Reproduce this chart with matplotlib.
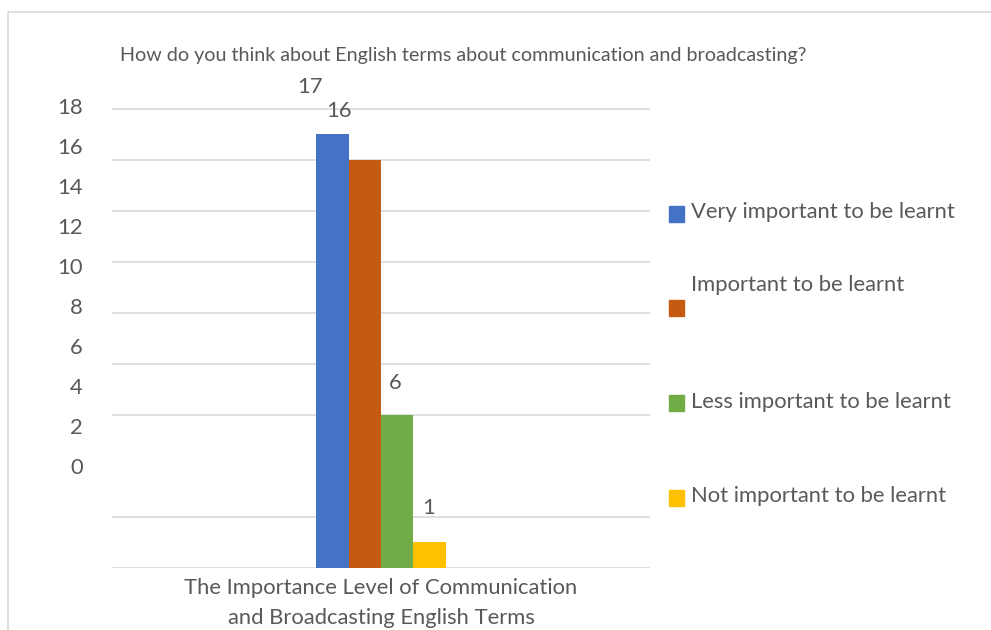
import numpy as np
import matplotlib.pyplot as plt
from matplotlib.patches import Rectangle

# data
category = "The Importance Level of Communication\nand Broadcasting English Terms"
series = ["Very important to be learnt", "Important to be learnt",
          "Less important to be learnt", "Not important to be learnt"]
values = [17, 16, 6, 1]
colors = ["#4472C4", "#C55A11", "#70AD47", "#FFC000"]
ytick_labels = [str(v) for v in range(0, 20, 2)]
title = "How do you think about English terms about communication and broadcasting?"

plt.rcParams['font.family'] = ['Lato', 'DejaVu Sans']
txt = "#595959"
grid = "#D9D9D9"
fs = 15.8

fig = plt.figure(figsize=(9.91, 6.3), dpi=100)
W, H = 991, 630

# light outer frame (runs off the right/bottom edge)
fig.patches.append(Rectangle((8 / W, -0.1), 1.1, (H - 12) / H + 0.1,
                             transform=fig.transFigure, fill=False,
                             edgecolor=grid, linewidth=1.2))

ax = fig.add_axes([112 / W, (H - 568) / H, 538 / W, 462 / H])
ax.set_xlim(-1, 1)
ax.set_ylim(0, 18)

bw = 0.12
x = (np.arange(len(values)) - (len(values) - 1) / 2) * bw
bars = ax.bar(x, values, width=bw, color=colors, zorder=3)

# value labels (sitting a bit high/left like the original)
label_dx = [-23, -26, -2, -1]
label_dy = [47, 49, 32, 34]
for b, v, dx, dy in zip(bars, values, label_dx, label_dy):
    ax.annotate(str(v), (b.get_x() + b.get_width() / 2, v),
                xytext=(dx * 0.72, dy * 0.72), textcoords="offset points",
                ha="center", va="center", fontsize=fs, color=txt,
                annotation_clip=False)

# gridlines every 2, labels drawn on a different spacing than the grid
ax.set_yticks(np.arange(0, 20, 2), minor=True)
ax.yaxis.grid(True, which="minor", color=grid, linewidth=1.2, zorder=0)
ax.set_yticks(np.linspace(4.0, 18.1, len(ytick_labels)))
ax.set_yticklabels(ytick_labels, fontsize=fs, color=txt)
ax.tick_params(axis="y", which="both", length=0, pad=21)
ax.tick_params(axis="x", length=0, pad=7)
ax.set_xticks([0])
ax.set_xticklabels([category], fontsize=fs, color=txt, linespacing=1.65)
for s in ax.spines.values():
    s.set_visible(False)

fig.text(120 / W, 1 - 55 / H, title, fontsize=14.2, color=txt, va="center")

# legend drawn by hand to keep the odd spacing
leg_box_y = [214, 308, 403, 498]
leg_txt_y = [212, 285, 402, 496]
for c, name, by, ty in zip(colors, series, leg_box_y, leg_txt_y):
    fig.patches.append(Rectangle((669 / W, 1 - (by + 8) / H), 15 / W, 16 / H,
                                 transform=fig.transFigure, color=c))
    fig.text(691 / W, 1 - ty / H, name, fontsize=fs, color=txt, va="center")

fig.savefig("out.png", dpi=100)
